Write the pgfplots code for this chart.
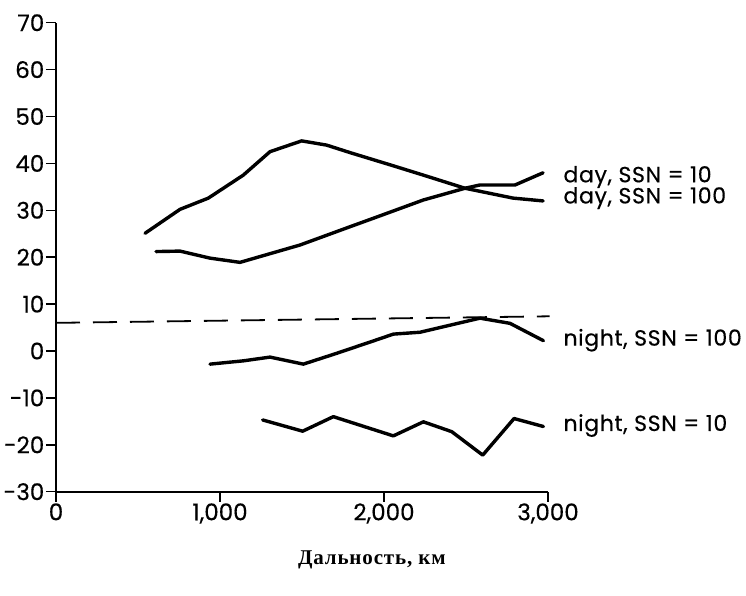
\documentclass[border=0pt]{standalone}
\usepackage{fontspec}
\setmainfont{Poppins}[FakeBold=0.4]
\newfontfamily\serifcyr{Liberation Serif}[LetterSpace=4]
\newfontfamily\labfont{Poppins}[FakeBold=0.4, LetterSpace=3]
\usepackage{pgfplots}
\pgfplotsset{compat=1.18}
\tikzset{
 curve/.style={black, no markers, line width=3.4pt, line join=round, line cap=round},
 lab/.style={anchor=west, font=\labfont\fontsize{22}{26}\selectfont},
}
\begin{document}
\begin{tikzpicture}
\useasboundingbox (-56pt,-104.3pt) rectangle (690pt,491.7pt);
\begin{axis}[
 at={(0,0)}, anchor=south west, scale only axis,
 width=492pt, height=469pt,
 xmin=0, xmax=3000, ymin=-30, ymax=70,
 axis lines=left, axis line style={-, line width=1.8pt},
 clip=false,
 xtick={0,1000,2000,3000}, xticklabels={0,{1,000},{2,000},{3,000}},
 ytick={-30,-20,-10,0,10,20,30,40,50,60,70},
 yticklabels={-30,-20,-10,0,10,20,30,40,50,60,70},
 tick align=outside, major tick length=10pt,
 tick style={line width=1.5pt, black},
 ticklabel style={font=\fontsize{23}{26}\selectfont, inner sep=1.5pt},
 xlabel={Дальность, км},
 x label style={at={(axis description cs:0.642,-0.145)}, anchor=center,
   font=\serifcyr\bfseries\fontsize{21}{24}\selectfont},
]
% day, SSN = 100 (starts high, ends low)
\addplot[curve] coordinates {(543,25.1) (756,30.2) (929,32.6) (1142,37.5) (1305,42.5) (1498,44.8) (1650,43.9) (1793,42.3) (2037,39.7) (2240,37.5) (2494,34.7) (2787,32.6) (2970,32.0)};
% day, SSN = 10 (starts low, ends high)
\addplot[curve] coordinates {(610,21.2) (756,21.3) (939,19.8) (1122,18.9) (1488,22.6) (1793,26.5) (1935,28.3) (2240,32.2) (2494,34.7) (2585,35.4) (2799,35.4) (2970,38.0)};
% night, SSN = 100
\addplot[curve] coordinates {(939,-2.8) (1142,-2.1) (1305,-1.3) (1508,-2.8) (1711,-0.5) (1965,2.5) (2057,3.6) (2220,4.0) (2402,5.5) (2585,7.0) (2768,5.9) (2972,2.2)};
% night, SSN = 10
\addplot[curve] coordinates {(1260,-14.7) (1504,-17.1) (1691,-14.0) (2057,-18.1) (2240,-15.1) (2413,-17.2) (2602,-22.2) (2793,-14.4) (2972,-16.1)};
% dashed reference line
\addplot[black, no markers, line width=1.8pt, line cap=butt, dash pattern=on 24pt off 13pt] coordinates {(0,6.0) (3010,7.4)};
\node[lab] at (axis cs:3073,37.1) {day, SSN = 10};
\node[lab] at (axis cs:3073,32.6) {day, SSN = 100};
\node[lab] at (axis cs:3073,2.3) {night, SSN = 100};
\node[lab] at (axis cs:3073,-15.9) {night, SSN = 10};
\end{axis}
\end{tikzpicture}
\end{document}
